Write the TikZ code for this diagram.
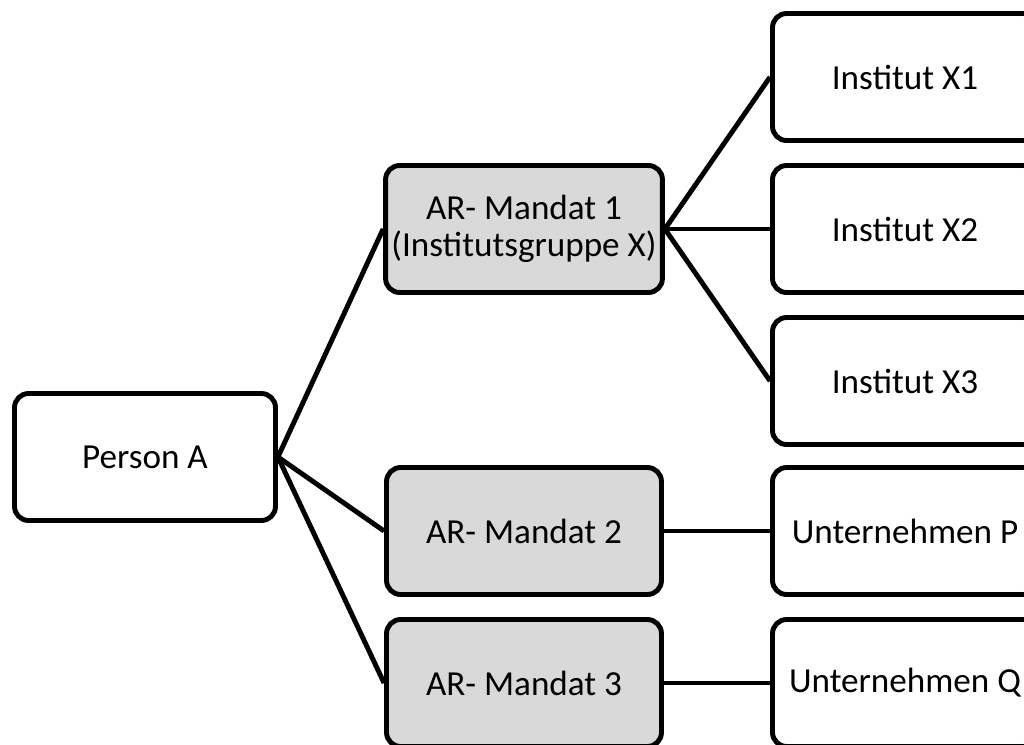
\documentclass[tikz,border=0pt]{standalone}
\usepackage{fontspec}
\setmainfont{Carlito}
\tikzset{
    box/.style = {draw, line width=2.8pt, rounded corners=8pt, minimum height=2.54cm, align=center, font=\fontsize{20}{21}\selectfont},
    mandat/.style = {box, fill=gray!30, minimum width=5.5cm},
    link/.style = {line width=2.8pt}
}
\begin{document}
\begin{tikzpicture}[x=0.02cm, y=-0.02cm]
                \clip (0,0) rectangle (1024,744);
                \useasboundingbox (0,0) rectangle (1024,744);
                \node[box, minimum width=5.22cm](PERS) at (145,457) {Person A};
                \node[mandat](MAND1) at (524,229) {AR- Mandat 1\\(Institutsgruppe X)};
                \node[mandat](MAND2) at (524,531) {AR- Mandat 2};
                \node[mandat](MAND3) at (524,683) {AR- Mandat 3};
                \node[box, minimum width=5.3cm](INSX1) at (905,77) {Institut X1};
                \node[box, minimum width=5.3cm](INSX2) at (905,229) {Institut X2};
                \node[box, minimum width=5.3cm](INSX3) at (905,381) {Institut X3};
                \node[box, minimum width=5.3cm](UNTP) at (905,531) {Unternehmen P};
                \node[box, minimum width=5.3cm](UNTQ) at (905,683) {Unternehmen Q};
                \draw[link] (PERS.east) -- (MAND1.west);
                \draw[link] (PERS.east) -- (MAND2.west);
                \draw[link] (PERS.east) -- (MAND3.west);
                \draw[link] (MAND1.east) -- (INSX1.west);
                \draw[link] (MAND1.east) -- (INSX2.west);
                \draw[link] (MAND1.east) -- (INSX3.west);
                \draw[link] (MAND2.east) -- (UNTP.west);
                \draw[link] (MAND3.east) -- (UNTQ.west);
            \end{tikzpicture}
\end{document}
